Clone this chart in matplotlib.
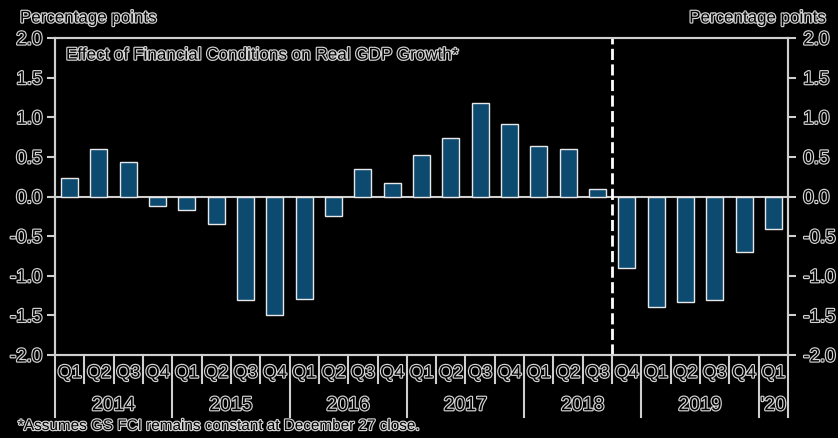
import matplotlib
matplotlib.use('Agg')
import matplotlib.pyplot as plt
import matplotlib.patheffects as pe
import matplotlib.transforms as mtransforms

quarters = ['Q1', 'Q2', 'Q3', 'Q4'] * 6 + ['Q1']
years = ['2014', '2015', '2016', '2017', '2018', '2019', "'20"]
year_counts = [4, 4, 4, 4, 4, 4, 1]
values = [0.23, 0.60, 0.43, -0.12, -0.17, -0.35, -1.30, -1.50, -1.29, -0.25,
          0.35, 0.17, 0.52, 0.74, 1.18, 0.92, 0.64, 0.60, 0.10, -0.90,
          -1.40, -1.33, -1.30, -0.70, -0.41]
forecast_start = 18.5

bar_color = '#0c4a70'
line_color = '#cfcfcf'
halo = [pe.withStroke(linewidth=1.7, foreground='#d4d4d4')]
plt.rcParams['font.family'] = ['Liberation Sans', 'DejaVu Sans']

fig = plt.figure(figsize=(8.38, 4.38), dpi=100, facecolor='black')
W, H = 838, 438
ax = fig.add_axes([55 / W, (H - 355) / H, (788 - 55) / W, (355 - 38) / H])
ax.set_facecolor('black')

x = list(range(len(values)))
ax.bar(x, values, width=0.58, color=bar_color, edgecolor='#e8e8e8', linewidth=1.0, zorder=3)
ax.axhline(0, color=line_color, lw=1.5, zorder=2)
ax.axvline(forecast_start, color='white', lw=2, dashes=(4, 1.6), zorder=4)

ax.set_xlim(-0.5, len(values) - 0.5)
ax.set_ylim(-2, 2)
ax.set_xticks([])
yt = [-2, -1.5, -1, -0.5, 0, 0.5, 1, 1.5, 2]
ax.set_yticks(yt)
ax.set_yticklabels(['%.1f' % v for v in yt])
for s in ax.spines.values():
    s.set_color(line_color)
    s.set_linewidth(1.5)
ax.tick_params(axis='y', colors=line_color, length=6, width=1.5, pad=3)

ax2 = ax.twinx()
ax2.set_ylim(-2, 2)
ax2.set_yticks(yt)
ax2.set_yticklabels(['%.1f' % v for v in yt])
ax2.tick_params(axis='y', colors=line_color, length=6, width=1.5, pad=5)
for s in ax2.spines.values():
    s.set_color(line_color)
    s.set_linewidth(1.5)

for a in (ax, ax2):
    for lab in a.get_yticklabels():
        lab.set_color('black')
        lab.set_fontsize(13.5)
        lab.set_path_effects(halo)

ax.text(0.015, 0.946, 'Effect of Financial Conditions on Real GDP Growth*',
        transform=ax.transAxes, fontsize=12.3, color='black', va='center',
        path_effects=halo)

# category axis under the plot
trans = mtransforms.blended_transform_factory(ax.transData, ax.transAxes)
boundaries = [i - 0.5 for i in range(len(values) + 1)]
year_edges = [-0.5]
for c in year_counts:
    year_edges.append(year_edges[-1] + c)
for b in boundaries:
    low = -0.196 if b in year_edges else -0.088
    ax.plot([b, b], [0, low], transform=trans, color=line_color, lw=1.5, clip_on=False)
for i, q in enumerate(quarters):
    ax.text(i, -0.057, q, transform=trans, ha='center', va='center', fontsize=13,
            color='black', path_effects=halo)
for k, yr in enumerate(years):
    mid = (year_edges[k] + year_edges[k + 1]) / 2
    ax.text(mid, -0.16, yr, transform=trans, ha='center', va='center', fontsize=14,
            color='black', path_effects=halo)

fig.text(20 / W, 1 - 18 / H, 'Percentage points', ha='left', va='center', fontsize=12.2,
         color='black', path_effects=halo)
fig.text(826 / W, 1 - 18 / H, 'Percentage points', ha='right', va='center', fontsize=12.2,
         color='black', path_effects=halo)
fig.text(18 / W, 1 - 426 / H, '*Assumes GS FCI remains constant at December 27 close.',
         ha='left', va='center', fontsize=11, color='black', path_effects=halo)

fig.savefig('out.png', dpi=100, facecolor='black')
